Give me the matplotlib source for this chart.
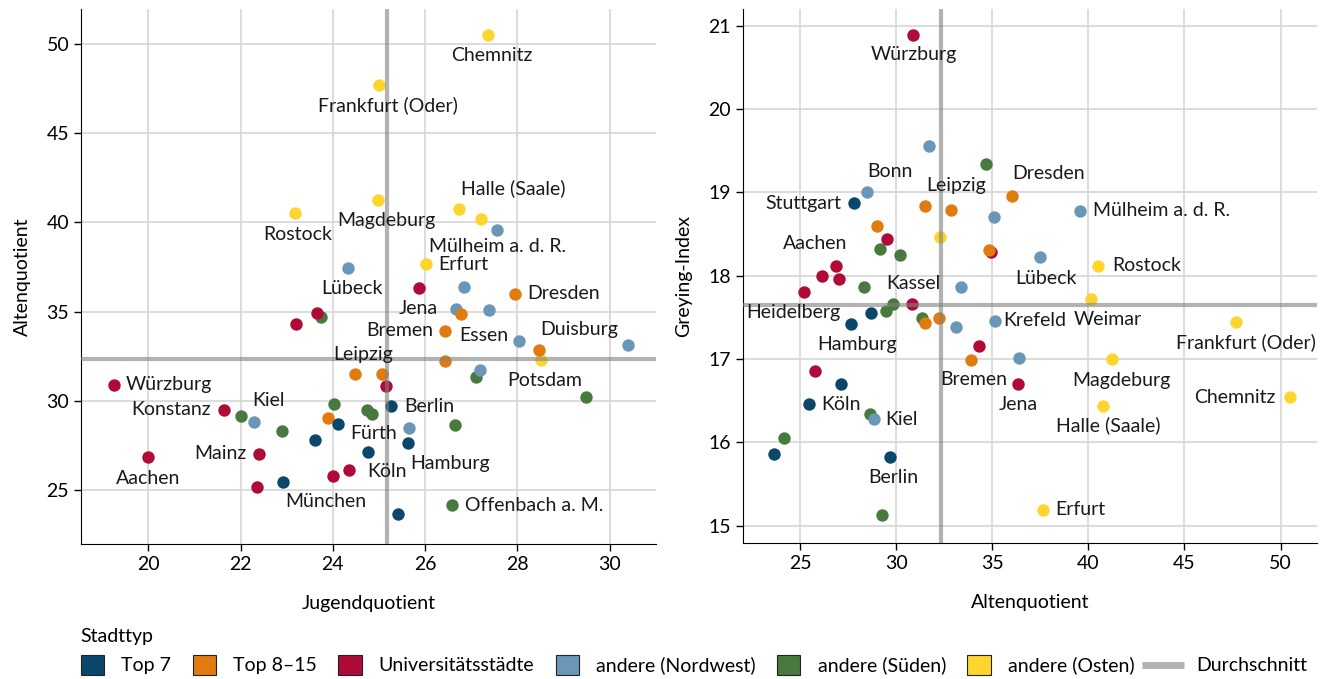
import matplotlib.pyplot as plt
from matplotlib.patches import Patch
from matplotlib.lines import Line2D
from matplotlib.legend_handler import HandlerBase

plt.rcParams['font.family'] = ['Lato', 'DejaVu Sans']

# city type codes: 0 Top 7, 1 Top 8-15, 2 Universitaetsstaedte,
# 3 andere (Nordwest), 4 andere (Sueden), 5 andere (Osten)
type_names = ['Top 7', 'Top 8–15', 'Universitätsstädte', 'andere (Nordwest)',
              'andere (Süden)', 'andere (Osten)']
type_colors = ['#0b476b', '#e27b0f', '#b00b38', '#6a97b8', '#487a3d', '#fdd52e']

cities = ['München', '', 'Köln', 'Hamburg', 'Stuttgart', '', 'Berlin',
          '', '', 'Leipzig', '', 'Duisburg', 'Bremen', 'Essen', 'Dresden',
          'Heidelberg', '', '', 'Aachen', 'Mainz', 'Konstanz', '', 'Würzburg', '', '', 'Jena',
          'Bonn', 'Kiel', '', '', '', '', 'Krefeld', '', 'Lübeck', 'Mülheim a. d. R.',
          'Offenbach a. M.', 'Kassel', '', '', 'Fürth', '', '', '', '', '',
          'Erfurt', 'Potsdam', 'Weimar', 'Rostock', 'Halle (Saale)', 'Magdeburg',
          'Frankfurt (Oder)', 'Chemnitz']
stadttyp = [0] * 7 + [1] * 8 + [2] * 11 + [3] * 10 + [4] * 10 + [5] * 8
jugend = [22.93, 25.41, 24.77, 25.63, 23.62, 24.11, 25.26,
          23.90, 25.06, 24.48, 26.44, 28.48, 26.44, 26.78, 27.94,
          22.35, 24.01, 24.34, 19.99, 22.40, 21.65, 25.16, 19.26, 23.20, 23.65, 25.86,
          25.66, 22.28, 27.20, 30.40, 28.04, 27.38, 26.66, 26.85, 24.33, 27.57,
          26.59, 22.89, 26.65, 22.01, 24.86, 24.75, 24.03, 29.49, 27.10, 23.75,
          26.02, 28.51, 27.21, 23.18, 26.74, 24.99, 25.01, 27.37]
alten = [25.45, 23.67, 27.15, 27.67, 27.80, 28.70, 29.70,
         29.03, 31.48, 31.50, 32.25, 32.85, 33.92, 34.85, 36.01,
         25.19, 25.80, 26.15, 26.85, 27.03, 29.50, 30.85, 30.90, 34.29, 34.93, 36.35,
         28.47, 28.83, 31.71, 33.11, 33.37, 35.07, 35.12, 36.40, 37.47, 39.56,
         24.16, 28.34, 28.64, 29.17, 29.26, 29.48, 29.85, 30.20, 31.34, 34.69,
         37.64, 32.27, 40.16, 40.52, 40.76, 41.23, 47.66, 50.50]
greying = [16.46, 15.86, 16.70, 17.42, 18.87, 17.55, 15.82,
           18.60, 17.43, 18.84, 17.49, 18.79, 16.99, 18.31, 18.96,
           17.81, 16.86, 18.00, 18.12, 17.96, 18.44, 17.66, 20.89, 17.16, 18.29, 16.70,
           19.00, 16.28, 19.56, 17.38, 17.87, 18.71, 17.46, 17.01, 18.22, 18.78,
           16.05, 17.86, 16.34, 18.32, 15.13, 17.58, 17.66, 18.25, 17.49, 19.34,
           15.19, 18.46, 17.72, 18.12, 16.44, 17.00, 17.45, 16.54]

avg_jugend = 25.17
avg_alten = 32.33
avg_greying = 17.65

# label offsets in pixels (dx right, dy down)
left_labels = {
    'Chemnitz': (4, 21), 'Frankfurt (Oder)': (9, 20), 'Rostock': (3, 21),
    'Magdeburg': (8, 20), 'Halle (Saale)': (54, -21), 'Mülheim a. d. R.': (0, 16),
    'Erfurt': (37, 0), 'Lübeck': (4, 21), 'Dresden': (49, 0), 'Jena': (0, 21),
    'Bremen': (-46, 0), 'Essen': (23, 21), 'Duisburg': (40, -21), 'Leipzig': (8, -20),
    'Potsdam': (4, 20), 'Würzburg': (55, 0), 'Konstanz': (-53, 0), 'Kiel': (15, -21),
    'Aachen': (0, 21), 'Mainz': (-39, 0), 'München': (42, 19), 'Köln': (19, 20),
    'Hamburg': (42, 21), 'Berlin': (38, 0), 'Fürth': (1, 19), 'Offenbach a. M.': (82, 0),
}
right_labels = {
    'Würzburg': (0, 20), 'Bonn': (23, -21), 'Stuttgart': (-51, 0), 'Leipzig': (31, -20),
    'Dresden': (37, -22), 'Mülheim a. d. R.': (82, 0), 'Aachen': (-20, -22),
    'Lübeck': (6, 21), 'Rostock': (48, 0), 'Kassel': (49, -4), 'Heidelberg': (-10, 21),
    'Hamburg': (6, 20), 'Krefeld': (40, 0), 'Weimar': (16, 20), 'Frankfurt (Oder)': (10, 21),
    'Bremen': (2, 20), 'Jena': (0, 20), 'Magdeburg': (9, 21), 'Chemnitz': (-55, 0),
    'Köln': (0, 20), 'Kiel': (28, 0), 'Halle (Saale)': (5, 19), 'Berlin': (3, 20),
    'Erfurt': (37, 0),
}

fs = 14
fig = plt.figure(figsize=(13.33, 6.79), dpi=100)
ax1 = fig.add_axes([0.0608, 0.1988, 0.4314, 0.7879])
ax2 = fig.add_axes([0.5572, 0.1998, 0.4306, 0.7869])


def draw_panel(ax, xs, ys, avg_x, avg_y, labels):
    for t in reversed(range(len(type_names))):
        px = [x for x, k in zip(xs, stadttyp) if k == t]
        py = [y for y, k in zip(ys, stadttyp) if k == t]
        ax.scatter(px, py, s=80, color=type_colors[t], linewidths=0, zorder=2)
    ax.axvline(avg_x, color='#808080', alpha=0.6, lw=3, zorder=3)
    ax.axhline(avg_y, color='#808080', alpha=0.6, lw=3, zorder=3)
    for name, (dx, dy) in labels.items():
        i = cities.index(name)
        ax.annotate(name, (xs[i], ys[i]), xytext=(dx, -dy), textcoords='offset pixels',
                    ha='center', va='center', fontsize=fs, color='#1a1a1a', zorder=4)
    ax.grid(True, color='#d6d6d6', lw=1.2)
    ax.set_axisbelow(True)
    for side in ['top', 'right']:
        ax.spines[side].set_visible(False)
    ax.tick_params(labelsize=fs, length=5, width=1, colors='black')


draw_panel(ax1, jugend, alten, avg_jugend, avg_alten, left_labels)
ax1.set_xlim(18.54, 31.01)
ax1.set_ylim(21.99, 51.94)
ax1.set_xticks([20, 22, 24, 26, 28, 30])
ax1.set_yticks([25, 30, 35, 40, 45, 50])
ax1.set_xlabel('Jugendquotient', fontsize=fs, labelpad=16)
ax1.set_ylabel('Altenquotient', fontsize=fs, labelpad=11.5)

draw_panel(ax2, alten, greying, avg_alten, avg_greying, right_labels)
ax2.set_xlim(22.02, 51.88)
ax2.set_ylim(14.79, 21.2)
ax2.set_xticks([25, 30, 35, 40, 45, 50])
ax2.set_yticks([15, 16, 17, 18, 19, 20, 21])
ax2.set_xlabel('Altenquotient', fontsize=fs, labelpad=16)
ax2.set_ylabel('Greying-Index', fontsize=fs, labelpad=11.5)


class AvgLineHandler(HandlerBase):
    # grey bar that reaches a bit further left than the square handles
    def create_artists(self, legend, orig_handle, xdescent, ydescent,
                       width, height, fontsize, trans):
        y = height / 2 - ydescent
        line = Line2D([-xdescent - 10, width - xdescent + 3.5], [y, y],
                      color='#808080', alpha=0.6, lw=5, solid_capstyle='butt',
                      transform=trans)
        return [line]


handles = [Patch(facecolor=c, edgecolor='#222222', lw=0.8) for c in type_colors]
handles.append(Line2D([], [], color='#808080', alpha=0.6, lw=5))
leg = fig.legend(handles, type_names + ['Durchschnitt'], loc='upper left',
                 bbox_to_anchor=(0.0475, 0.101), ncol=7, frameon=False, title='Stadttyp',
                 fontsize=fs, title_fontsize=fs, handlelength=1.2, handleheight=1.2,
                 handletextpad=0.88, columnspacing=1.1,
                 handler_map={Line2D: AvgLineHandler()})
leg._legend_box.align = 'left'

fig.savefig('out.png', dpi=100)
